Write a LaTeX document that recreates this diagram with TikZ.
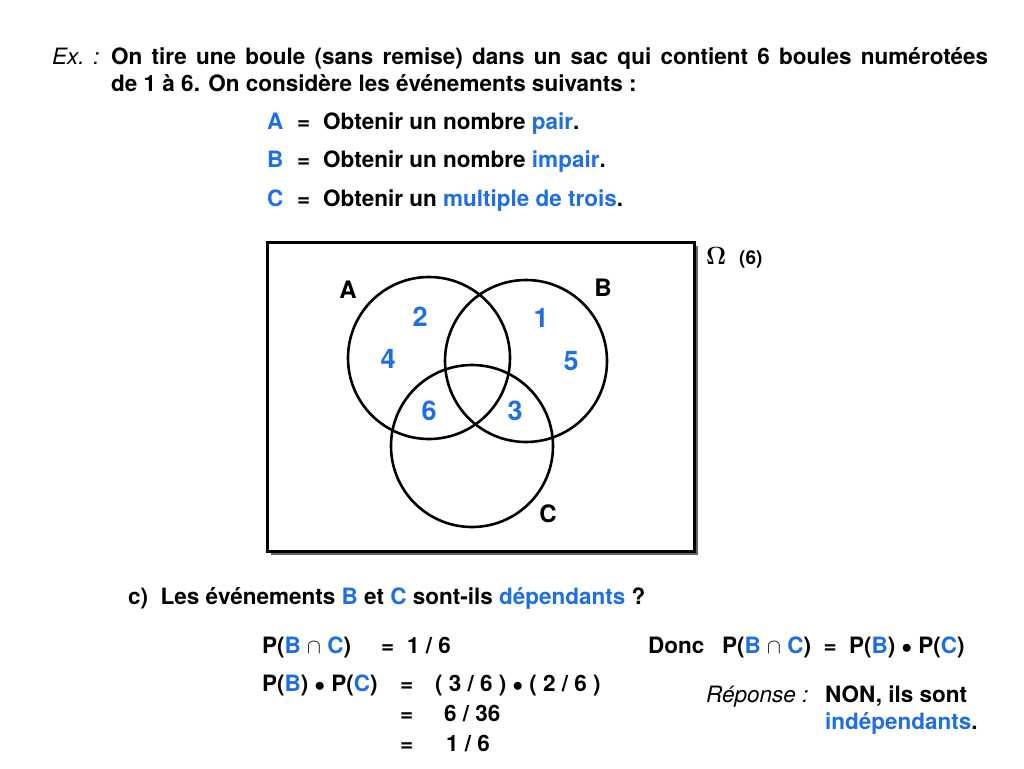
\documentclass[tikz,border=0pt]{standalone}
\usepackage{fontspec}
\setmainfont{TeX Gyre Heros}
\usepackage{tikz}
\usetikzlibrary{positioning, shadows}
\definecolor{evblue}{RGB}{30,110,230}
\newcommand{\bl}[1]{\textcolor{evblue}{#1}}

\begin{document}
\begin{tikzpicture}[x=1pt, y=-1pt, font=\bfseries\fontsize{22.5}{27}\selectfont,
  t/.style={anchor=base west, inner sep=0pt},
  it/.style={anchor=base west, inner sep=0pt, font=\itshape\fontsize{22.5}{27}\selectfont},
  num/.style={text=evblue, font=\bfseries\fontsize{27}{31}\selectfont},
  lab/.style={font=\bfseries\fontsize{24}{28}\selectfont},
  circ/.style={draw, line width=2.6pt, circle, minimum size=162pt, inner sep=0pt}]
\useasboundingbox (0,0) rectangle (1024,768);
% statement
\node[it] (ex) at (52,64) {Ex. :};
\node[t] (l1) at (111,64) {\makebox[877pt][s]{On tire une boule (sans remise) dans un sac qui contient 6 boules numérotées}};
\node[t] (l2) at (111,91) {de 1 à 6. On considère les événements suivants :};
\node[t, text=evblue] (ea) at (267,129) {A};
\node[t] (qa) at (297,129) {=};
\node[t] (da) at (323,129) {Obtenir un nombre \bl{pair}.};
\node[t, text=evblue] (eb) at (267,167) {B};
\node[t] (qb) at (297,167) {=};
\node[t] (db) at (323,167) {Obtenir un nombre \bl{impair}.};
\node[t, text=evblue] (ec) at (267,206) {C};
\node[t] (qc) at (297,206) {=};
\node[t] (dc) at (323,206) {Obtenir un \bl{multiple de trois}.};
% universe and sets
\node[draw, line width=2.6pt, fill=white, anchor=north west, inner sep=0pt,
  minimum width=427pt, minimum height=309pt,
  drop shadow={shadow xshift=4pt, shadow yshift=-4pt, fill=black!60, opacity=1}] (omega) at (266,241) {};
\node[anchor=base west, inner sep=0pt, font=\boldmath\fontsize{28}{32}\selectfont] (om) at (706,264) {$\Omega$};
\node[t, font=\bfseries\fontsize{19}{22}\selectfont] (card) at (739,264) {(6)};
\node[circ] (ca) at (429,358) {};
\node[circ] (cb) at (526,361) {};
\node[circ] (cc) at (472,446) {};
\node[lab] (la) at (348,290) {A};
\node[lab] (lb) at (603,288) {B};
\node[lab] (lc) at (548,514) {C};
\node[num] (n2) at (420,317) {2};
\node[num] (n4) at (388,359) {4};
\node[num] (n1) at (541,318) {1};
\node[num] (n5) at (571,361) {5};
\node[num] (n6) at (429,411) {6};
\node[num] (n3) at (515,411) {3};
% question c
\node[t] (qu) at (128,604) {c)\ \ Les événements \bl{B} et \bl{C} sont-ils \bl{dépendants} ?};
\node[t] (pbc) at (262,653) {P(\bl{B} $\cap$ \bl{C})};
\node[t] (e1) at (381,653) {=};
\node[t] (r1) at (407,653) {1 / 6};
\node[t] (pbpc) at (262,691) {P(\bl{B}) $\bullet$ P(\bl{C})};
\node[t] (e2) at (400,691) {=};
\node[t] (r2) at (435,691) {( 3 / 6 ) $\bullet$ ( 2 / 6 )};
\node[t] (e3) at (400,721) {=};
\node[t] (r3) at (444,721) {6 / 36};
\node[t] (e4) at (400,751) {=};
\node[t] (r4) at (446,751) {1 / 6};
\node[t] (donc) at (648,653) {Donc};
\node[t] (eq) at (722,653) {P(\bl{B} $\cap$ \bl{C})\ \ =\ \ P(\bl{B}) $\bullet$ P(\bl{C})};
\node[it] (rep) at (706,702) {Réponse :};
\node[t] (non) at (825,702) {NON, ils sont};
\node[t] (ind) at (825,729) {\bl{indépendants}.};
\end{tikzpicture}
\end{document}
